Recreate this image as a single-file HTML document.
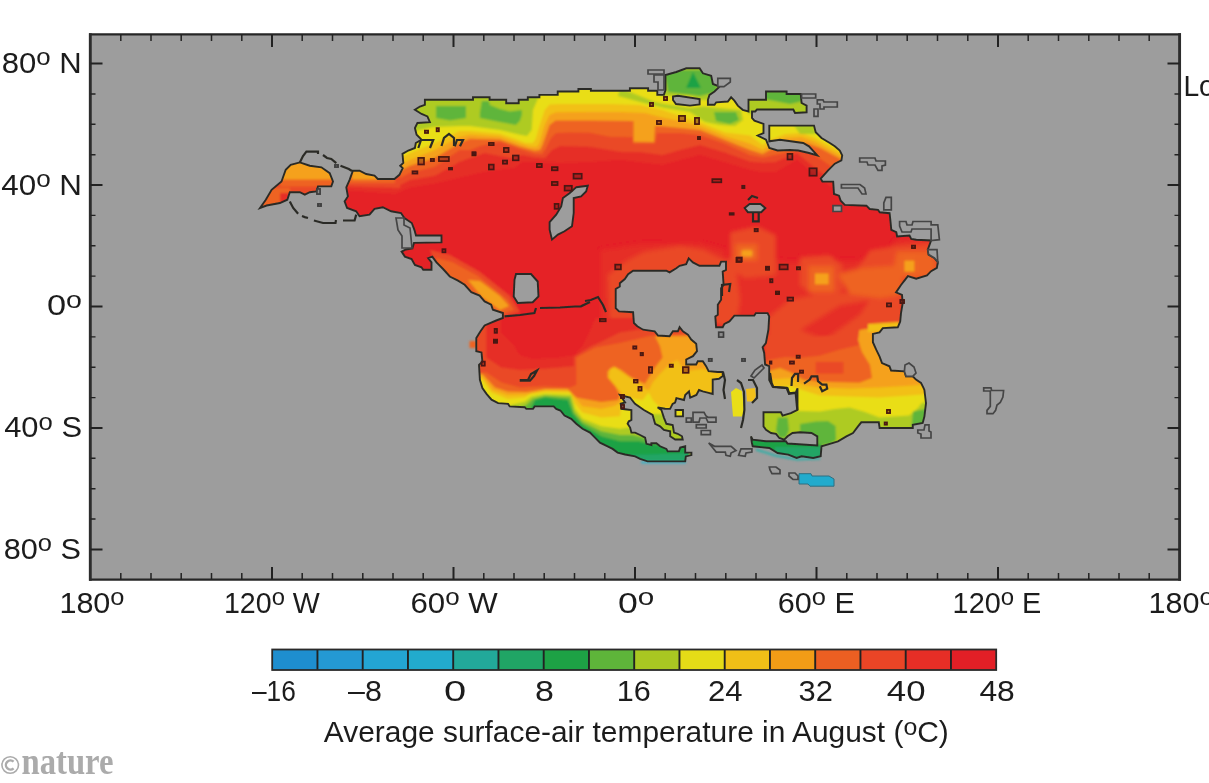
<!DOCTYPE html>
<html><head><meta charset="utf-8"><title>Average surface-air temperature in August</title>
<style>
html,body{margin:0;padding:0;background:#fff;}
body{width:1209px;height:783px;position:relative;overflow:hidden;font-family:"Liberation Sans",sans-serif;}
.t{position:absolute;font-size:29px;line-height:33px;color:#1a1a1a;white-space:nowrap;letter-spacing:-0.3px;}
.t.c{text-align:center;}
.d{font-size:19px;position:relative;top:-8px;letter-spacing:0;}
.nat{position:absolute;left:1px;top:744px;font-family:"Liberation Serif",serif;font-weight:bold;font-size:37px;line-height:37px;color:#a9a9a9;transform-origin:0 0;transform:scaleX(0.8);white-space:nowrap;letter-spacing:-1.5px;}
.nat .c{font-size:27px;font-weight:normal;position:relative;top:-1px;margin-right:1px;font-family:"Liberation Sans",sans-serif;}
</style></head><body>
<svg width="1209" height="783" viewBox="0 0 1209 783" style="position:absolute;left:0;top:0;filter:blur(0.4px)"><defs><clipPath id="land"><path clip-rule="evenodd" d="M424.9,99.8 L473.0,99.8 L473.0,97.3 L489.6,97.3 L489.6,99.8 L506.2,99.8 L506.2,103.2 L518.7,103.2 L518.7,99.8 L527.8,99.8 L527.8,97.3 L539.4,97.3 L539.4,94.9 L557.7,94.9 L557.7,91.5 L578.4,91.5 L578.4,89.0 L590.9,89.0 L590.9,90.7 L629.9,90.7 L629.9,88.2 L648.1,88.2 L648.1,90.7 L657.3,90.7 L657.3,94.9 L663.9,94.9 L665.5,90.0 L665.5,75.0 L676.3,72.0 L686.3,68.3 L699.6,68.3 L702.9,73.3 L711.2,75.8 L712.9,84.0 L719.5,86.6 L714.5,91.5 L709.5,94.9 L707.9,99.8 L707.9,104.8 L714.5,104.8 L716.2,102.3 L727.8,101.5 L731.1,97.3 L734.4,100.7 L737.8,105.6 L742.7,109.8 L748.5,111.5 L748.5,99.8 L766.0,99.8 L766.0,91.5 L786.6,91.5 L786.6,94.0 L800.7,94.0 L801.6,103.0 L806.6,105.6 L806.6,112.3 L795.0,113.0 L793.3,109.5 L757.0,109.5 L755.2,111.5 L752.0,111.5 L752.0,118.0 L754.4,120.6 L763.5,123.9 L763.5,133.0 L757.7,135.5 L766.0,139.7 L769.3,148.0 L777.6,150.5 L790.0,150.0 L798.3,150.5 L809.0,153.0 L817.3,155.4 L809.0,146.3 L803.2,143.0 L780.0,139.7 L769.3,141.3 L769.3,125.6 L814.0,125.6 L815.7,132.2 L821.5,138.0 L829.8,143.0 L834.8,146.3 L839.8,150.5 L842.2,155.4 L841.4,160.4 L834.8,163.7 L828.1,170.4 L820.7,178.7 L822.4,181.6 L833.2,181.6 L834.0,194.0 L839.0,195.7 L840.7,200.7 L844.8,204.9 L866.4,205.7 L869.7,209.0 L878.0,209.8 L879.7,212.3 L889.6,213.2 L890.5,221.5 L891.3,229.8 L896.3,232.2 L897.1,236.4 L909.5,235.6 L911.2,238.9 L916.2,239.7 L931.1,240.5 L927.8,249.7 L928.6,254.6 L934.4,258.0 L937.8,262.1 L936.9,267.9 L931.1,271.2 L927.0,275.4 L916.2,278.7 L907.9,276.2 L904.6,280.4 L901.0,285.0 L896.0,292.4 L902.0,295.0 L902.7,303.2 L901.0,313.2 L900.2,321.5 L897.8,327.3 L882.8,328.1 L879.5,332.3 L872.9,333.9 L872.9,342.2 L876.2,349.7 L879.5,356.3 L882.0,363.0 L889.5,366.3 L891.1,370.5 L904.4,371.3 L906.0,376.3 L912.7,376.3 L916.0,379.6 L921.0,382.9 L923.5,387.9 L924.4,390.0 L926.0,403.2 L924.4,416.5 L922.7,423.0 L912.8,424.8 L912.8,428.0 L879.6,428.0 L878.8,422.3 L861.3,422.3 L858.0,426.4 L853.0,433.0 L846.4,436.4 L838.0,441.4 L829.8,443.9 L821.5,446.3 L820.7,456.3 L813.2,458.0 L801.6,456.3 L796.6,458.0 L788.3,454.6 L777.6,453.0 L769.3,448.0 L752.7,446.3 L751.9,443.0 L751.0,436.3 L752.7,439.7 L766.0,441.3 L785.9,441.3 L787.6,443.5 L817.3,445.5 L817.3,436.4 L811.5,433.0 L800.0,432.2 L792.5,433.0 L787.6,436.3 L784.2,439.7 L779.3,438.0 L776.0,433.9 L771.0,433.0 L766.0,429.7 L763.5,426.4 L763.5,412.3 L780.9,412.3 L782.6,415.6 L790.9,413.1 L797.5,409.8 L797.5,388.3 L795.9,392.4 L789.2,393.2 L787.6,388.2 L772.6,386.6 L769.2,380.0 L769.2,366.2 L765.1,364.5 L764.2,352.9 L762.6,347.1 L765.9,343.0 L768.4,329.7 L769.2,316.4 L767.6,313.1 L755.9,313.1 L754.3,315.6 L734.4,315.6 L729.4,321.4 L724.4,323.9 L722.7,327.2 L716.1,327.2 L715.3,316.4 L717.8,314.7 L717.8,304.8 L721.1,299.8 L721.1,288.2 L723.6,284.9 L722.7,271.6 L726.0,269.9 L726.0,261.6 L721.1,261.6 L719.4,265.8 L699.5,265.8 L692.9,262.4 L688.7,258.3 L686.2,264.1 L679.6,265.8 L676.3,268.3 L669.6,272.4 L666.3,270.7 L633.1,270.7 L628.1,274.1 L624.8,279.0 L619.8,283.2 L619.8,286.5 L615.7,289.0 L615.7,308.1 L619.0,311.4 L633.1,312.2 L633.9,323.0 L637.3,326.3 L643.1,329.7 L654.7,331.3 L658.0,335.5 L669.6,336.3 L672.9,331.3 L677.9,331.3 L679.6,327.2 L682.9,331.3 L687.9,334.6 L691.2,339.6 L696.2,343.8 L697.0,351.2 L692.9,356.2 L686.2,359.5 L686.2,364.5 L696.2,364.5 L697.8,361.2 L702.8,361.2 L706.1,366.2 L708.6,371.2 L717.8,372.0 L722.7,372.0 L722.7,376.0 L719.0,378.8 L712.7,379.5 L712.7,394.0 L707.7,392.6 L702.7,391.3 L699.0,390.0 L696.4,395.0 L690.2,397.6 L689.0,391.3 L685.2,395.0 L684.0,400.0 L676.4,398.2 L675.1,402.6 L672.6,403.9 L670.1,408.9 L665.1,408.8 L657.6,407.5 L661.4,410.0 L663.9,417.6 L666.4,423.8 L672.7,425.0 L674.0,432.6 L677.7,433.8 L682.0,436.3 L682.7,439.5 L675.2,439.5 L670.2,436.3 L670.2,431.3 L663.9,430.0 L660.1,426.3 L655.1,423.8 L652.6,415.0 L643.9,410.0 L635.0,403.8 L630.0,397.5 L620.0,395.0 L625.1,402.5 L620.7,403.8 L621.3,408.8 L631.4,410.0 L631.4,420.0 L628.8,421.3 L627.6,423.8 L630.1,427.6 L631.4,432.6 L635.1,432.6 L640.1,435.0 L645.1,437.6 L646.4,443.8 L651.4,445.0 L651.4,443.2 L656.4,443.2 L660.1,446.3 L666.4,448.9 L667.7,451.4 L678.9,451.4 L680.2,447.6 L685.2,446.3 L685.2,452.6 L691.4,452.6 L691.4,455.1 L685.8,456.4 L685.2,461.4 L647.6,461.4 L640.1,458.9 L635.1,456.4 L625.1,454.5 L617.6,452.6 L612.6,448.9 L607.6,446.3 L600.0,442.6 L595.0,437.6 L590.0,432.6 L582.5,428.8 L576.3,423.8 L571.2,418.8 L564.5,415.5 L560.4,410.5 L556.2,408.9 L553.7,406.4 L534.6,406.4 L533.0,408.9 L526.3,408.9 L524.7,407.2 L509.7,406.4 L508.1,403.9 L498.1,403.1 L491.5,399.7 L486.5,393.9 L482.4,388.1 L479.9,379.8 L479.0,364.9 L482.4,361.6 L481.5,352.4 L476.3,351.2 L476.3,337.9 L480.5,331.2 L484.6,325.4 L496.2,320.5 L502.9,318.0 L502.9,313.0 L492.9,309.7 L491.2,304.7 L484.6,301.4 L479.6,295.6 L471.3,292.2 L464.7,284.8 L458.0,280.6 L449.8,276.5 L443.1,269.0 L436.5,262.4 L432.3,256.6 L428.2,258.2 L431.5,262.4 L431.5,269.8 L423.2,269.8 L421.5,267.3 L414.9,264.9 L411.6,259.0 L404.9,256.6 L401.6,251.6 L406.0,249.5 L412.4,248.3 L414.0,242.9 L441.5,242.4 L441.5,235.5 L416.0,235.5 L414.3,229.6 L411.8,223.0 L404.4,218.0 L401.0,213.0 L391.1,211.3 L382.8,207.2 L374.5,208.8 L369.5,214.6 L359.5,216.3 L356.2,211.3 L347.1,208.0 L344.6,201.4 L347.9,196.4 L346.3,187.3 L349.6,179.8 L352.9,170.7 L359.5,170.7 L366.2,174.0 L374.5,175.6 L377.8,179.0 L394.4,179.0 L399.4,174.8 L402.7,168.2 L400.2,165.7 L403.3,162.9 L402.5,153.8 L408.3,150.5 L414.9,148.0 L415.8,143.0 L421.6,139.7 L416.6,134.7 L414.9,128.0 L417.4,123.0 L429.9,122.2 L427.4,116.4 L421.6,114.0 L414.9,109.8 L419.9,106.5 L424.9,104.8ZM576.1,187.3 L587.8,185.7 L586.1,191.5 L581.1,196.5 L573.7,198.1 L573.7,213.0 L572.0,226.3 L564.5,231.3 L557.9,234.6 L552.0,239.6 L549.6,229.7 L549.6,222.2 L556.2,214.7 L561.2,206.4 L562.9,198.1 L569.5,193.2ZM516.0,274.0 L531.0,274.0 L537.7,281.5 L538.5,296.4 L532.7,302.2 L517.8,303.0 L513.7,296.4 L514.5,279.8ZM744.6,208.0 L749.6,204.0 L760.4,204.0 L765.4,208.0 L761.2,212.2 L747.9,212.2ZM673.0,96.5 L678.0,95.7 L699.6,99.0 L699.6,104.5 L690.0,105.6 L676.0,104.0 L673.0,100.0ZM675.5,410.0 L683.0,410.0 L683.0,416.4 L675.5,416.4Z"/></clipPath><clipPath id="wisl"><path d="M260.0,208.0 L265.8,199.7 L271.6,189.8 L281.5,181.5 L285.7,169.8 L290.7,164.9 L299.8,162.4 L309.8,165.7 L321.4,167.3 L329.7,173.2 L333.0,181.5 L331.3,186.4 L318.0,186.4 L316.4,191.4 L309.8,192.2 L304.8,194.7 L299.8,192.2 L289.8,192.2 L287.3,199.7 L279.9,203.0 L266.6,205.5Z"/></clipPath><filter id="b1" x="-5%" y="-5%" width="110%" height="110%"><feGaussianBlur stdDeviation="0.9"/></filter><filter id="b2" x="-5%" y="-5%" width="110%" height="110%"><feGaussianBlur stdDeviation="0.6"/></filter><filter id="b3" x="-10%" y="-10%" width="120%" height="120%"><feGaussianBlur stdDeviation="2.2"/></filter></defs><rect x="90.5" y="34.5" width="1089" height="545" fill="#9d9d9d"/><g clip-path="url(#land)"><g filter="url(#b1)"><rect x="330" y="50" width="640" height="440" fill="#e52027"/><g filter="url(#b3)"><path d="M725.0,262.0 L745.0,240.0 L760.0,258.0 L790.0,262.0 L885.0,260.0 L895.0,240.0 L945.0,235.0 L945.0,300.0 L910.0,330.0 L760.0,340.0 L725.0,330.0Z" fill="#e62e27"/><path d="M600.0,250.0 L640.0,244.0 L700.0,243.0 L725.0,250.0 L725.0,350.0 L600.0,350.0Z" fill="#e62e27"/><path d="M608.0,275.0 L625.0,262.0 L644.0,252.0 L680.0,246.0 L704.0,250.0 L720.0,258.0 L735.0,262.0 L740.0,300.0 L735.0,330.0 L720.0,345.0 L640.0,345.0 L610.0,325.0Z" fill="#ea4a25"/><path d="M730.0,232.0 L757.0,226.0 L776.0,235.0 L776.0,275.0 L745.0,278.0 L730.0,268.0Z" fill="#ea4a25"/><path d="M735.5,244.0 L757.4,244.0 L757.4,260.6 L735.5,260.6Z" fill="#ee6420"/><path d="M742.0,250.6 L752.0,250.6 L752.0,256.0 L742.0,256.0Z" fill="#f5a11a"/><path d="M800.0,257.0 L830.0,255.0 L842.0,265.0 L843.0,290.0 L830.0,300.0 L806.0,300.0 L800.0,290.0Z" fill="#ea4a25"/><path d="M808.5,266.0 L834.0,266.0 L834.0,291.7 L808.5,291.7Z" fill="#ee6420"/><path d="M815.0,273.4 L828.6,273.4 L828.6,284.4 L815.0,284.4Z" fill="#f5a11a"/><path d="M858.0,268.0 L870.0,250.0 L895.0,246.0 L940.0,243.0 L940.0,280.0 L900.0,284.0 L870.0,282.0Z" fill="#ea4a25"/><path d="M862.0,268.0 L894.0,266.0 L897.0,251.5 L930.8,251.5 L936.0,265.0 L930.8,277.0 L894.3,277.0 L862.0,277.0Z" fill="#ee6420"/><path d="M904.4,260.6 L914.4,260.6 L914.4,271.6 L904.4,271.6Z" fill="#f5a11a"/><path d="M765.0,285.0 L800.0,285.0 L820.0,300.0 L905.0,290.0 L905.0,340.0 L765.0,345.0Z" fill="#e62e27"/><path d="M768.0,318.0 L790.0,300.0 L815.0,295.0 L860.0,292.0 L900.0,290.0 L905.0,335.0 L890.0,350.0 L768.0,350.0Z" fill="#ea4a25"/><path d="M800.0,330.0 L840.0,305.0 L870.0,300.0 L860.0,315.0 L825.0,340.0Z" fill="#e62e27"/><path d="M838.0,274.0 L862.0,268.0 L900.0,268.0 L905.0,294.0 L880.0,298.0 L850.0,294.0Z" fill="#ee6420"/></g><path d="M340.0,40.0 L340.0,190.0 L395.0,194.0 L400.0,192.0 L410.0,187.7 L434.8,183.7 L459.7,177.8 L484.6,172.0 L515.0,168.0 L522.5,162.0 L535.0,162.6 L560.0,163.0 L585.0,162.6 L620.0,160.0 L662.5,165.0 L700.0,155.0 L725.0,162.6 L750.0,170.0 L762.7,172.6 L775.2,172.6 L797.0,160.0 L815.0,175.0 L835.0,190.0 L850.0,197.0 L850.0,40.0Z" fill="#e62e27"/><path d="M340.0,40.0 L340.0,184.0 L395.0,187.0 L400.0,185.0 L410.0,180.0 L434.8,175.8 L459.7,161.8 L484.6,153.0 L510.0,158.0 L522.5,155.0 L535.0,157.6 L545.0,158.0 L552.0,150.0 L560.0,146.0 L590.0,146.8 L620.0,151.8 L640.0,152.0 L662.5,155.0 L680.0,150.0 L700.0,145.0 L725.0,152.6 L750.0,161.4 L762.7,162.6 L775.2,162.0 L797.0,153.0 L815.0,168.0 L835.0,183.0 L850.0,190.0 L850.0,40.0Z" fill="#ea4a25"/><path d="M340.0,40.0 L340.0,178.0 L395.0,180.0 L400.0,178.0 L410.0,172.8 L434.8,166.8 L459.7,150.0 L470.0,150.0 L480.0,146.0 L500.0,141.8 L520.0,149.3 L534.7,153.8 L542.0,154.0 L545.7,148.8 L551.0,138.0 L556.0,133.0 L570.0,132.6 L590.0,132.8 L610.0,136.8 L633.0,137.0 L633.0,143.5 L655.0,143.5 L657.0,133.0 L680.0,133.0 L700.0,135.0 L725.0,143.8 L750.0,155.0 L762.7,157.6 L775.0,155.0 L800.0,150.0 L807.0,150.0 L836.0,169.5 L850.0,178.0 L850.0,40.0Z" fill="#ee6420"/><path d="M340.0,40.0 L340.0,172.0 L395.0,173.0 L400.0,171.0 L410.0,165.8 L434.8,158.0 L459.7,143.0 L470.0,138.8 L500.0,139.8 L520.0,146.8 L534.7,150.8 L540.0,150.0 L542.7,144.8 L549.6,124.9 L555.6,120.4 L590.0,120.4 L633.6,121.0 L633.6,141.8 L654.0,142.0 L655.0,126.0 L662.5,126.3 L680.0,128.0 L700.0,130.0 L725.0,140.0 L750.0,150.0 L762.7,154.0 L770.0,150.0 L785.0,143.0 L806.0,143.0 L820.0,148.0 L841.4,159.6 L850.0,165.0 L850.0,40.0Z" fill="#f5a11a"/><path d="M395.0,40.0 L395.0,167.0 L400.0,165.0 L410.0,160.0 L434.8,150.0 L459.7,137.0 L470.0,134.8 L500.0,136.8 L520.0,143.8 L530.0,146.8 L537.0,147.0 L539.7,142.8 L544.7,124.9 L549.6,114.9 L556.0,112.3 L590.0,112.0 L620.0,112.0 L645.0,113.0 L662.5,117.5 L680.0,121.0 L700.0,126.3 L725.0,136.3 L750.0,143.8 L762.7,150.0 L770.0,145.0 L785.0,138.0 L801.6,137.0 L815.0,142.0 L843.0,157.0 L843.0,40.0Z" fill="#f2c019"/><path d="M395.0,40.0 L395.0,160.0 L400.0,158.0 L410.0,153.0 L434.8,143.0 L459.7,131.0 L470.0,130.9 L500.0,133.8 L515.0,138.8 L525.0,142.8 L533.0,143.0 L535.7,138.8 L539.7,124.9 L544.7,109.9 L549.6,104.5 L560.0,104.0 L610.0,104.0 L640.0,105.0 L662.5,110.0 L680.0,116.0 L700.0,122.6 L725.0,132.6 L750.0,135.5 L762.7,145.0 L770.0,140.0 L785.0,134.0 L801.6,133.0 L815.0,138.0 L843.0,153.0 L843.0,40.0Z" fill="#e9de18"/><path d="M410.0,95.0 L410.0,132.0 L433.0,127.0 L459.7,126.0 L470.0,125.9 L500.0,129.9 L520.0,134.8 L527.0,136.0 L531.7,130.0 L533.0,110.0 L540.0,94.0 L536.0,88.0Z" fill="#aecb23"/><path d="M436.0,106.0 L466.0,106.0 L466.0,118.0 L450.0,120.6 L436.0,118.0Z" fill="#5eb53a"/><path d="M481.9,101.0 L488.9,101.0 L489.9,105.0 L499.8,108.9 L509.8,111.4 L521.8,109.9 L521.8,114.9 L519.8,120.9 L515.8,124.9 L499.8,121.9 L479.9,117.9 L479.9,112.9Z" fill="#5eb53a"/><path d="M620.0,88.0 L640.0,96.0 L655.0,102.0 L662.5,103.8 L690.0,108.0 L703.0,106.5 L741.0,110.0 L743.0,120.0 L735.0,126.0 L720.0,125.0 L705.0,122.0 L690.0,112.0 L665.0,108.0 L640.0,102.0 L618.0,96.0Z" fill="#aecb23"/><path d="M714.0,112.0 L736.0,112.0 L739.0,120.0 L730.0,124.0 L716.0,121.0Z" fill="#5eb53a"/><path d="M660.0,66.0 L725.0,66.0 L725.0,100.0 L700.0,100.0 L690.0,96.0 L660.0,96.0Z" fill="#aecb23"/><path d="M664.0,70.0 L720.0,70.0 L716.0,92.0 L700.0,96.0 L668.0,92.0Z" fill="#5eb53a"/><path d="M693.0,72.0 L686.0,88.0 L701.0,88.0Z" fill="#1da245"/><path d="M748.0,90.0 L810.0,90.0 L810.0,114.0 L748.0,114.0Z" fill="#aecb23"/><path d="M764.0,91.0 L808.0,91.0 L808.0,100.0 L790.0,104.0 L764.0,99.0Z" fill="#5eb53a"/><path d="M793.0,124.0 L814.0,124.0 L816.0,134.0 L800.0,134.0Z" fill="#aecb23"/><path d="M340.0,165.0 L400.0,165.0 L400.0,188.0 L340.0,186.0Z" fill="#ea4a25"/><path d="M345.0,165.0 L395.0,165.0 L395.0,183.0 L345.0,183.0Z" fill="#ee6420"/><path d="M352.0,168.0 L378.0,171.0 L378.0,179.5 L352.0,179.5Z" fill="#f5a11a"/><path d="M430.0,250.0 L450.0,255.0 L480.0,272.0 L510.0,296.0 L520.0,312.0 L500.0,318.0 L470.0,300.0 L440.0,275.0Z" fill="#ea4a25"/><path d="M436.0,258.0 L452.0,262.0 L478.0,276.0 L508.0,300.0 L514.0,310.0 L500.0,314.0 L472.0,296.0 L442.0,272.0Z" fill="#ee6420"/><path d="M468.0,280.0 L480.0,281.0 L500.0,296.0 L509.0,306.0 L500.0,310.0 L482.0,297.0Z" fill="#f5a11a"/><path d="M470.0,318.0 L700.0,318.0 L740.0,330.0 L740.0,520.0 L470.0,520.0Z" fill="#e62e27"/><path d="M501.3,318.0 L501.3,332.5 L513.8,345.0 L520.0,355.0 L532.6,358.8 L557.6,357.6 L574.0,355.0 L582.7,345.0 L589.0,332.5 L595.2,318.0Z" fill="#e52027"/><path d="M470.0,318.0 L486.3,318.0 L486.3,357.6 L501.3,367.6 L520.0,370.0 L545.0,368.8 L574.0,366.3 L574.0,357.0 L589.0,347.5 L607.7,338.8 L620.0,332.5 L650.0,328.0 L740.0,328.0 L740.0,520.0 L470.0,520.0Z" fill="#ea4a25"/><path d="M470.0,372.6 L486.3,372.6 L501.3,382.6 L520.0,387.6 L545.0,386.3 L570.0,387.6 L576.4,385.0 L576.4,357.6 L595.2,347.5 L620.0,343.0 L650.0,336.0 L700.0,333.0 L740.0,333.0 L740.0,520.0 L470.0,520.0Z" fill="#ee6420"/><path d="M470.0,374.0 L482.5,374.0 L495.0,387.6 L507.6,391.4 L526.3,392.0 L545.0,388.9 L567.7,388.9 L576.4,397.6 L582.5,398.8 L601.3,401.9 L618.0,400.0 L620.0,395.0 L615.0,386.3 L607.5,377.6 L607.5,371.3 L613.8,366.3 L621.3,370.0 L631.3,377.6 L645.0,383.8 L648.8,377.6 L655.0,367.6 L662.6,357.5 L660.0,346.3 L655.0,336.3 L700.0,336.0 L740.0,336.0 L740.0,520.0 L470.0,520.0Z" fill="#f5a11a"/><path d="M470.0,376.3 L482.5,376.3 L492.5,390.0 L507.6,395.0 L526.3,394.5 L545.0,390.0 L569.0,390.7 L575.0,397.5 L582.5,406.3 L601.3,408.8 L614.0,406.0 L621.0,402.0 L621.3,392.6 L615.0,385.0 L608.8,377.6 L610.0,368.8 L615.0,367.5 L627.6,376.3 L640.0,383.8 L645.0,388.8 L648.8,390.0 L652.6,382.6 L660.0,373.8 L670.0,363.8 L677.6,360.0 L685.0,371.3 L702.7,368.8 L715.0,372.6 L740.0,372.0 L740.0,520.0 L470.0,520.0Z" fill="#f2c019"/><path d="M470.0,380.0 L482.5,380.0 L491.3,392.6 L507.6,398.9 L525.0,397.6 L530.0,393.9 L545.0,392.0 L570.0,392.6 L575.0,403.8 L582.5,412.5 L601.3,417.6 L620.0,416.3 L622.0,398.0 L631.3,398.2 L642.6,400.0 L648.8,392.6 L652.6,400.0 L660.0,407.6 L700.0,410.0 L740.0,410.0 L740.0,520.0 L470.0,520.0Z" fill="#e9de18"/><path d="M500.0,410.0 L511.3,405.0 L525.0,401.4 L531.3,396.4 L545.0,393.9 L571.4,395.0 L575.0,408.8 L582.5,418.8 L601.3,426.3 L620.0,428.8 L628.8,427.6 L640.0,430.0 L690.0,440.0 L690.0,520.0 L500.0,520.0Z" fill="#aecb23"/><path d="M515.0,410.0 L526.3,405.0 L532.6,398.9 L545.0,395.7 L570.0,397.6 L574.0,412.0 L582.5,422.0 L601.3,431.3 L620.0,435.0 L632.6,435.0 L645.0,438.0 L690.0,444.0 L690.0,520.0 L515.0,520.0Z" fill="#5eb53a"/><path d="M530.0,410.0 L535.0,400.0 L545.0,397.6 L567.7,400.0 L573.0,414.0 L582.5,425.0 L601.3,436.3 L620.0,441.3 L638.9,441.3 L650.0,444.0 L690.0,447.0 L690.0,520.0 L530.0,520.0Z" fill="#1da245"/><path d="M630.0,455.0 L690.0,453.0 L690.0,470.0 L630.0,470.0Z" fill="#20a565"/><path d="M652.0,414.0 L664.0,414.0 L676.0,430.0 L684.0,436.0 L684.0,442.0 L670.0,442.0 L654.0,426.0Z" fill="#aecb23"/><path d="M812.0,270.5 L831.5,270.5 L831.5,287.5 L812.0,287.5Z" fill="#ee6420"/><path d="M901.5,258.0 L917.5,258.0 L917.5,274.5 L901.5,274.5Z" fill="#ee6420"/><path d="M742.0,250.6 L752.0,250.6 L752.0,256.0 L742.0,256.0Z" fill="#f5a11a"/><path d="M815.0,273.4 L828.6,273.4 L828.6,284.4 L815.0,284.4Z" fill="#f5a11a"/><path d="M904.4,260.6 L914.4,260.6 L914.4,271.6 L904.4,271.6Z" fill="#f5a11a"/><path d="M765.0,335.0 L800.0,338.0 L840.0,335.0 L860.0,325.0 L900.0,320.0 L905.0,300.0 L960.0,300.0 L960.0,470.0 L765.0,470.0Z" fill="#ea4a25"/><path d="M765.0,362.0 L769.8,359.8 L785.7,357.0 L799.7,357.8 L819.6,355.8 L839.5,349.8 L859.4,345.0 L866.0,340.0 L880.0,335.0 L900.0,330.0 L960.0,330.0 L960.0,470.0 L765.0,470.0Z" fill="#ee6420"/><path d="M815.6,361.8 L843.5,361.8 L843.5,373.7 L815.6,373.7Z" fill="#ea4a25"/><path d="M765.0,372.0 L780.0,368.0 L790.0,372.0 L803.7,379.7 L819.6,381.7 L859.4,382.7 L872.0,378.0 L870.0,365.0 L862.0,352.0 L858.0,340.0 L859.4,329.9 L871.4,327.9 L899.3,325.9 L960.0,325.0 L960.0,470.0 L765.0,470.0Z" fill="#f5a11a"/><path d="M765.0,380.0 L790.0,378.0 L803.7,385.0 L819.6,387.6 L849.5,388.6 L879.4,387.6 L909.2,385.7 L930.0,384.0 L930.0,470.0 L765.0,470.0Z" fill="#f2c019"/><path d="M868.0,324.0 L899.0,322.0 L899.0,330.0 L868.0,332.0Z" fill="#f2c019"/><path d="M765.0,388.0 L790.0,386.0 L819.6,395.6 L849.5,396.6 L879.4,397.6 L909.2,395.6 L930.0,394.0 L930.0,470.0 L765.0,470.0Z" fill="#e9de18"/><path d="M760.0,412.0 L780.0,410.0 L800.0,411.0 L819.6,411.6 L835.0,409.0 L849.5,407.6 L865.0,412.0 L879.4,417.5 L909.2,415.5 L918.0,408.0 L921.2,403.6 L930.0,400.0 L930.0,470.0 L760.0,470.0Z" fill="#aecb23"/><path d="M777.8,417.5 L787.7,417.5 L789.0,430.0 L786.0,437.5 L779.0,437.5 L776.0,430.0Z" fill="#5eb53a"/><path d="M800.0,424.0 L815.6,421.5 L828.0,421.0 L835.5,426.0 L836.0,440.0 L830.0,444.0 L815.0,446.0 L800.0,440.0Z" fill="#5eb53a"/><path d="M913.0,411.6 L930.0,408.0 L930.0,430.0 L911.2,430.0Z" fill="#5eb53a"/><path d="M745.0,434.0 L790.0,440.0 L822.0,445.0 L822.0,470.0 L745.0,470.0Z" fill="#1da245"/><path d="M775.0,447.0 L822.0,447.0 L822.0,470.0 L775.0,470.0Z" fill="#20a565"/></g></g><g clip-path="url(#wisl)"><g filter="url(#b1)"><rect x="250" y="150" width="100" height="70" fill="#e62e27"/><path d="M255.0,185.0 L340.0,185.0 L340.0,215.0 L255.0,215.0Z" fill="#ea4a25"/><path d="M262.0,188.0 L290.0,188.0 L290.0,205.0 L262.0,210.0Z" fill="#ee6420"/><path d="M280.0,193.0 L292.0,193.0 L292.0,205.0 L280.0,205.0Z" fill="#e62e27"/><path d="M280.0,179.0 L336.0,179.0 L336.0,186.5 L280.0,186.5Z" fill="#ee6420"/><path d="M280.0,160.0 L336.0,160.0 L336.0,179.5 L280.0,179.5Z" fill="#f5a11a"/></g></g><g filter="url(#b1)"><path d="M641,462.3H686" stroke="#39b4c8" stroke-width="2.2" fill="none"/><path d="M756,449.5L775,455.5L797,459.5L820,458.5" stroke="#2fb0a8" stroke-width="2" fill="none"/><rect x="469.5" y="341" width="7" height="7" fill="#ee6420"/></g><path d="M799.0,473.7 L811.0,473.7 L812.0,476.0 L829.0,476.0 L834.0,479.0 L834.0,486.2 L810.0,486.2 L808.0,484.0 L799.0,484.0Z" fill="#22abcd" stroke="#2f6f80" stroke-width="1"/><path d="M731.0,392.0 L736.0,388.0 L742.0,391.0 L743.0,400.0 L744.4,410.0 L742.0,416.4 L733.0,416.4 L732.0,405.0Z" fill="#e9de18"/><path d="M746.0,389.0 L755.0,388.0 L756.0,396.0 L753.0,401.5 L747.0,401.5Z" fill="#f2c019"/><path d="M675.5,410.0 L683.0,410.0 L683.0,416.4 L675.5,416.4Z" fill="#e9de18" /><g fill="none" stroke="#2c2c26" stroke-width="1.9" stroke-linejoin="miter" filter="url(#b2)"><path d="M424.9,99.8 L473.0,99.8 L473.0,97.3 L489.6,97.3 L489.6,99.8 L506.2,99.8 L506.2,103.2 L518.7,103.2 L518.7,99.8 L527.8,99.8 L527.8,97.3 L539.4,97.3 L539.4,94.9 L557.7,94.9 L557.7,91.5 L578.4,91.5 L578.4,89.0 L590.9,89.0 L590.9,90.7 L629.9,90.7 L629.9,88.2 L648.1,88.2 L648.1,90.7 L657.3,90.7 L657.3,94.9 L663.9,94.9 L665.5,90.0 L665.5,75.0 L676.3,72.0 L686.3,68.3 L699.6,68.3 L702.9,73.3 L711.2,75.8 L712.9,84.0 L719.5,86.6 L714.5,91.5 L709.5,94.9 L707.9,99.8 L707.9,104.8 L714.5,104.8 L716.2,102.3 L727.8,101.5 L731.1,97.3 L734.4,100.7 L737.8,105.6 L742.7,109.8 L748.5,111.5 L748.5,99.8 L766.0,99.8 L766.0,91.5 L786.6,91.5 L786.6,94.0 L800.7,94.0 L801.6,103.0 L806.6,105.6 L806.6,112.3 L795.0,113.0 L793.3,109.5 L757.0,109.5 L755.2,111.5 L752.0,111.5 L752.0,118.0 L754.4,120.6 L763.5,123.9 L763.5,133.0 L757.7,135.5 L766.0,139.7 L769.3,148.0 L777.6,150.5 L790.0,150.0 L798.3,150.5 L809.0,153.0 L817.3,155.4 L809.0,146.3 L803.2,143.0 L780.0,139.7 L769.3,141.3 L769.3,125.6 L814.0,125.6 L815.7,132.2 L821.5,138.0 L829.8,143.0 L834.8,146.3 L839.8,150.5 L842.2,155.4 L841.4,160.4 L834.8,163.7 L828.1,170.4 L820.7,178.7 L822.4,181.6 L833.2,181.6 L834.0,194.0 L839.0,195.7 L840.7,200.7 L844.8,204.9 L866.4,205.7 L869.7,209.0 L878.0,209.8 L879.7,212.3 L889.6,213.2 L890.5,221.5 L891.3,229.8 L896.3,232.2 L897.1,236.4 L909.5,235.6 L911.2,238.9 L916.2,239.7 L931.1,240.5 L927.8,249.7 L928.6,254.6 L934.4,258.0 L937.8,262.1 L936.9,267.9 L931.1,271.2 L927.0,275.4 L916.2,278.7 L907.9,276.2 L904.6,280.4 L901.0,285.0 L896.0,292.4 L902.0,295.0 L902.7,303.2 L901.0,313.2 L900.2,321.5 L897.8,327.3 L882.8,328.1 L879.5,332.3 L872.9,333.9 L872.9,342.2 L876.2,349.7 L879.5,356.3 L882.0,363.0 L889.5,366.3 L891.1,370.5 L904.4,371.3 L906.0,376.3 L912.7,376.3 L916.0,379.6 L921.0,382.9 L923.5,387.9 L924.4,390.0 L926.0,403.2 L924.4,416.5 L922.7,423.0 L912.8,424.8 L912.8,428.0 L879.6,428.0 L878.8,422.3 L861.3,422.3 L858.0,426.4 L853.0,433.0 L846.4,436.4 L838.0,441.4 L829.8,443.9 L821.5,446.3 L820.7,456.3 L813.2,458.0 L801.6,456.3 L796.6,458.0 L788.3,454.6 L777.6,453.0 L769.3,448.0 L752.7,446.3 L751.9,443.0 L751.0,436.3 L752.7,439.7 L766.0,441.3 L785.9,441.3 L787.6,443.5 L817.3,445.5 L817.3,436.4 L811.5,433.0 L800.0,432.2 L792.5,433.0 L787.6,436.3 L784.2,439.7 L779.3,438.0 L776.0,433.9 L771.0,433.0 L766.0,429.7 L763.5,426.4 L763.5,412.3 L780.9,412.3 L782.6,415.6 L790.9,413.1 L797.5,409.8 L797.5,388.3 L795.9,392.4 L789.2,393.2 L787.6,388.2 L772.6,386.6 L769.2,380.0 L769.2,366.2 L765.1,364.5 L764.2,352.9 L762.6,347.1 L765.9,343.0 L768.4,329.7 L769.2,316.4 L767.6,313.1 L755.9,313.1 L754.3,315.6 L734.4,315.6 L729.4,321.4 L724.4,323.9 L722.7,327.2 L716.1,327.2 L715.3,316.4 L717.8,314.7 L717.8,304.8 L721.1,299.8 L721.1,288.2 L723.6,284.9 L722.7,271.6 L726.0,269.9 L726.0,261.6 L721.1,261.6 L719.4,265.8 L699.5,265.8 L692.9,262.4 L688.7,258.3 L686.2,264.1 L679.6,265.8 L676.3,268.3 L669.6,272.4 L666.3,270.7 L633.1,270.7 L628.1,274.1 L624.8,279.0 L619.8,283.2 L619.8,286.5 L615.7,289.0 L615.7,308.1 L619.0,311.4 L633.1,312.2 L633.9,323.0 L637.3,326.3 L643.1,329.7 L654.7,331.3 L658.0,335.5 L669.6,336.3 L672.9,331.3 L677.9,331.3 L679.6,327.2 L682.9,331.3 L687.9,334.6 L691.2,339.6 L696.2,343.8 L697.0,351.2 L692.9,356.2 L686.2,359.5 L686.2,364.5 L696.2,364.5 L697.8,361.2 L702.8,361.2 L706.1,366.2 L708.6,371.2 L717.8,372.0 L722.7,372.0 L722.7,376.0 L719.0,378.8 L712.7,379.5 L712.7,394.0 L707.7,392.6 L702.7,391.3 L699.0,390.0 L696.4,395.0 L690.2,397.6 L689.0,391.3 L685.2,395.0 L684.0,400.0 L676.4,398.2 L675.1,402.6 L672.6,403.9 L670.1,408.9 L665.1,408.8 L657.6,407.5 L661.4,410.0 L663.9,417.6 L666.4,423.8 L672.7,425.0 L674.0,432.6 L677.7,433.8 L682.0,436.3 L682.7,439.5 L675.2,439.5 L670.2,436.3 L670.2,431.3 L663.9,430.0 L660.1,426.3 L655.1,423.8 L652.6,415.0 L643.9,410.0 L635.0,403.8 L630.0,397.5 L620.0,395.0 L625.1,402.5 L620.7,403.8 L621.3,408.8 L631.4,410.0 L631.4,420.0 L628.8,421.3 L627.6,423.8 L630.1,427.6 L631.4,432.6 L635.1,432.6 L640.1,435.0 L645.1,437.6 L646.4,443.8 L651.4,445.0 L651.4,443.2 L656.4,443.2 L660.1,446.3 L666.4,448.9 L667.7,451.4 L678.9,451.4 L680.2,447.6 L685.2,446.3 L685.2,452.6 L691.4,452.6 L691.4,455.1 L685.8,456.4 L685.2,461.4 L647.6,461.4 L640.1,458.9 L635.1,456.4 L625.1,454.5 L617.6,452.6 L612.6,448.9 L607.6,446.3 L600.0,442.6 L595.0,437.6 L590.0,432.6 L582.5,428.8 L576.3,423.8 L571.2,418.8 L564.5,415.5 L560.4,410.5 L556.2,408.9 L553.7,406.4 L534.6,406.4 L533.0,408.9 L526.3,408.9 L524.7,407.2 L509.7,406.4 L508.1,403.9 L498.1,403.1 L491.5,399.7 L486.5,393.9 L482.4,388.1 L479.9,379.8 L479.0,364.9 L482.4,361.6 L481.5,352.4 L476.3,351.2 L476.3,337.9 L480.5,331.2 L484.6,325.4 L496.2,320.5 L502.9,318.0 L502.9,313.0 L492.9,309.7 L491.2,304.7 L484.6,301.4 L479.6,295.6 L471.3,292.2 L464.7,284.8 L458.0,280.6 L449.8,276.5 L443.1,269.0 L436.5,262.4 L432.3,256.6 L428.2,258.2 L431.5,262.4 L431.5,269.8 L423.2,269.8 L421.5,267.3 L414.9,264.9 L411.6,259.0 L404.9,256.6 L401.6,251.6 L406.0,249.5 L412.4,248.3 L414.0,242.9 L441.5,242.4 L441.5,235.5 L416.0,235.5 L414.3,229.6 L411.8,223.0 L404.4,218.0 L401.0,213.0 L391.1,211.3 L382.8,207.2 L374.5,208.8 L369.5,214.6 L359.5,216.3 L356.2,211.3 L347.1,208.0 L344.6,201.4 L347.9,196.4 L346.3,187.3 L349.6,179.8 L352.9,170.7 L359.5,170.7 L366.2,174.0 L374.5,175.6 L377.8,179.0 L394.4,179.0 L399.4,174.8 L402.7,168.2 L400.2,165.7 L403.3,162.9 L402.5,153.8 L408.3,150.5 L414.9,148.0 L415.8,143.0 L421.6,139.7 L416.6,134.7 L414.9,128.0 L417.4,123.0 L429.9,122.2 L427.4,116.4 L421.6,114.0 L414.9,109.8 L419.9,106.5 L424.9,104.8ZM576.1,187.3 L587.8,185.7 L586.1,191.5 L581.1,196.5 L573.7,198.1 L573.7,213.0 L572.0,226.3 L564.5,231.3 L557.9,234.6 L552.0,239.6 L549.6,229.7 L549.6,222.2 L556.2,214.7 L561.2,206.4 L562.9,198.1 L569.5,193.2ZM516.0,274.0 L531.0,274.0 L537.7,281.5 L538.5,296.4 L532.7,302.2 L517.8,303.0 L513.7,296.4 L514.5,279.8ZM744.6,208.0 L749.6,204.0 L760.4,204.0 L765.4,208.0 L761.2,212.2 L747.9,212.2ZM673.0,96.5 L678.0,95.7 L699.6,99.0 L699.6,104.5 L690.0,105.6 L676.0,104.0 L673.0,100.0ZM675.5,410.0 L683.0,410.0 L683.0,416.4 L675.5,416.4Z"/><path d="M260.0,208.0 L265.8,199.7 L271.6,189.8 L281.5,181.5 L285.7,169.8 L290.7,164.9 L299.8,162.4 L309.8,165.7 L321.4,167.3 L329.7,173.2 L333.0,181.5 L331.3,186.4 L318.0,186.4 L316.4,191.4 L309.8,192.2 L304.8,194.7 L299.8,192.2 L289.8,192.2 L287.3,199.7 L279.9,203.0 L266.6,205.5Z"/><path d="M648.0,70.0 L664.0,70.0 L664.0,74.0 L648.0,74.0Z" fill="#9d9d9d" stroke="#454545" stroke-width="1.7"/><path d="M654.0,75.0 L664.0,75.0 L664.0,90.0 L658.0,90.0 L658.0,82.0 L654.0,82.0Z" fill="#9d9d9d" stroke="#454545" stroke-width="1.7"/><path d="M717.8,78.3 L730.3,78.3 L730.3,82.0 L724.0,86.6 L717.8,86.6Z" fill="#9d9d9d" stroke="#454545" stroke-width="1.7"/><path d="M801.6,94.0 L815.7,94.0 L815.7,98.0 L801.6,98.0Z" fill="#9d9d9d" stroke="#454545" stroke-width="1.7"/><path d="M817.3,99.8 L823.0,99.8 L824.0,102.0 L837.3,102.0 L837.3,107.0 L824.0,107.0 L824.0,109.0 L820.0,109.0 L820.0,104.0 L817.3,104.0Z" fill="#9d9d9d" stroke="#454545" stroke-width="1.7"/><path d="M814.0,109.0 L818.0,109.0 L818.0,116.4 L814.0,116.4Z" fill="#9d9d9d" stroke="#454545" stroke-width="1.7"/><path d="M859.7,158.0 L875.0,158.0 L876.0,161.0 L885.4,161.0 L885.4,165.0 L882.0,166.0 L882.0,170.4 L878.0,170.4 L875.0,165.0 L868.0,165.0 L867.0,162.0 L859.7,162.0Z" fill="#9d9d9d" stroke="#454545" stroke-width="1.7"/><path d="M841.4,184.5 L860.0,184.5 L864.6,188.0 L866.0,194.0 L862.0,194.0 L858.0,188.0 L841.4,188.0Z" fill="#9d9d9d" stroke="#454545" stroke-width="1.7"/><path d="M883.8,209.8 L883.8,203.0 L886.0,197.4 L891.3,197.4 L891.3,209.8Z" fill="#9d9d9d" stroke="#454545" stroke-width="1.7"/><path d="M833.0,205.7 L841.5,205.7 L841.5,211.5 L833.0,211.5Z" fill="#9d9d9d" stroke="#454545" stroke-width="1.7"/><path d="M899.6,221.5 L906.0,221.5 L907.0,225.0 L912.0,225.0 L913.0,221.5 L931.1,221.5 L931.1,224.8 L937.8,224.8 L939.4,239.7 L931.1,240.5 L931.1,229.0 L912.0,229.0 L911.0,232.0 L902.0,232.0 L899.6,226.0Z" fill="#9d9d9d" stroke="#454545" stroke-width="1.7"/><path d="M927.8,249.7 L937.0,249.7 L937.8,262.1 L934.4,258.0 L928.6,254.6Z" fill="#9d9d9d" stroke="#454545" stroke-width="1.7"/><path d="M917.8,430.0 L924.0,430.0 L925.0,424.8 L929.0,424.8 L929.0,431.0 L931.0,432.0 L931.0,438.0 L921.0,438.0 L921.0,434.0 L917.8,433.0Z" fill="#9d9d9d" stroke="#454545" stroke-width="1.7"/><path d="M983.7,387.8 L991.0,387.8 L991.6,390.5 L1003.6,390.5 L1002.9,397.1 L1000.3,402.4 L997.0,405.0 L995.6,410.4 L993.0,413.7 L987.0,413.7 L987.0,410.4 L990.3,406.4 L990.3,391.0 L983.7,391.0Z" fill="#9d9d9d" stroke="#454545" stroke-width="1.7"/><path d="M708.7,443.0 L714.5,446.3 L731.1,446.3 L736.0,450.5 L731.0,453.0 L730.3,456.3 L726.0,455.4 L725.3,452.1 L716.2,452.1 L712.9,448.0Z" fill="#9d9d9d" stroke="#454545" stroke-width="1.7"/><path d="M741.0,448.8 L751.9,448.8 L751.9,452.1 L746.0,453.0 L745.2,456.3 L738.6,455.4Z" fill="#9d9d9d" stroke="#454545" stroke-width="1.7"/><path d="M769.3,467.0 L776.0,467.0 L780.0,470.0 L780.0,473.7 L772.0,473.7 L770.0,470.0Z" fill="#9d9d9d" stroke="#454545" stroke-width="1.7"/><path d="M693.0,412.3 L704.0,412.3 L706.0,416.0 L708.0,417.3 L716.0,417.3 L716.0,422.2 L708.0,422.2 L706.0,418.0 L700.0,418.0 L699.0,422.2 L693.0,422.2Z" fill="#9d9d9d" stroke="#454545" stroke-width="1.7"/><path d="M686.3,418.0 L691.3,418.0 L691.3,422.2 L686.3,422.2Z" fill="#9d9d9d" stroke="#454545" stroke-width="1.7"/><path d="M696.3,424.7 L706.2,424.7 L706.2,428.0 L696.3,428.0Z" fill="#9d9d9d" stroke="#454545" stroke-width="1.7"/><path d="M701.2,430.5 L710.4,430.5 L710.4,434.7 L701.2,434.7Z" fill="#9d9d9d" stroke="#454545" stroke-width="1.7"/><path d="M396.0,218.0 L404.0,218.0 L404.0,225.0 L410.0,228.0 L412.0,248.0 L402.0,248.0 L402.0,236.0 L398.0,230.0Z" fill="#9d9d9d" stroke="#454545" stroke-width="1.7"/><path d="M789.0,473.0 L795.0,473.0 L798.0,476.0 L798.0,479.5 L793.0,479.5 L789.0,476.0Z" fill="#9d9d9d" stroke="#454545" stroke-width="1.7"/><path d="M751.0,376.0 L755.0,370.0 L762.0,365.0 L764.0,368.0 L758.0,374.0 L754.0,378.0Z" fill="#9d9d9d" stroke="#454545" stroke-width="1.7"/><path d="M904.4,371.3 L905.0,365.0 L909.0,363.0 L914.0,367.0 L916.0,373.0 L912.7,376.3 L906.0,376.3Z" fill="#9d9d9d" stroke="#454545" stroke-width="1.7"/><path d="M299.8,162.4 L303.0,156.0 L306.4,151.6 L318.0,151.6 L318.0,154.0" stroke-width="2.2"/><path d="M323.0,155.0 L327.0,158.0 L331.3,159.0 L336.3,163.2" stroke-width="2.2"/><path d="M340.5,165.7 L348.8,169.0 L352.0,171.0" stroke-width="2.2"/><path d="M289.8,201.4 L293.2,208.0 L298.1,213.8" stroke-width="2.2"/><path d="M302.0,216.0 L304.8,217.1 L308.0,218.0" stroke-width="2.2"/><path d="M313.9,220.5 L323.0,223.0 L335.5,223.0 L336.0,220.0" stroke-width="2.2"/><path d="M343.0,220.5 L354.6,220.5 L356.2,214.6" stroke-width="2.2"/><path d="M504.5,316.3 L520.0,315.0 L534.4,313.0 L536.0,308.0" stroke-width="2.2"/><path d="M540.0,308.0 L560.0,307.5 L575.0,306.5 L580.9,306.3 L590.0,302.0" stroke-width="2.2"/><path d="M585.0,301.0 L590.8,300.0 L598.0,297.0 L603.0,305.0 L606.0,312.0" stroke-width="2.2"/><path d="M804.0,383.7 L809.8,379.6 L811.5,376.3 L817.3,376.3 L818.0,381.2 L822.2,384.6 L826.4,384.6 L827.2,388.7 L822.2,391.2 L819.8,386.2" stroke-width="2.2"/><path d="M791.5,386.0 L792.0,378.0 L795.0,373.8 L798.2,373.8 L798.0,382.0" stroke-width="2.2"/><path d="M723.0,372.0 L725.0,380.0 L723.5,390.0 L725.0,399.0" stroke-width="2.2"/><path d="M753.0,213.0 L753.0,221.4 L758.7,221.4 L758.7,213.0" stroke-width="2.2"/><path d="M748.0,200.0 L752.0,196.0 L758.0,198.0" stroke-width="2.2"/><path d="M519.7,380.0 L528.0,380.0 L531.0,374.0 L537.0,370.5 L534.0,376.0 L530.0,380.7 L519.7,380.7" stroke-width="2.2"/><path d="M441.5,146.0 L444.0,138.0 L449.0,134.0 L454.0,138.0 L454.0,146.0" stroke-width="2.2"/><path d="M418.3,148.0 L421.0,140.0 L433.2,140.0 L430.0,148.0" stroke-width="2.2"/><path d="M454.8,146.3 L457.0,140.0 L463.0,140.0 L460.0,146.3" stroke-width="2.2"/><path d="M722.0,296.0 L722.0,285.0 L730.2,284.0 L729.0,292.0" stroke-width="2.2"/><path d="M737.0,380.0 L741.0,383.0 L744.0,392.0 L744.4,410.0 L743.0,420.0 L741.0,428.0" stroke-width="2.2"/><path d="M748.0,380.0 L753.0,380.0 L757.0,388.0 L757.0,398.0 L752.0,403.0" stroke-width="2.2"/><path d="M770.0,373.0 L771.6,383.0 L773.3,387.0 L786.6,387.9 L789.0,393.7 L795.7,392.9 L797.3,410.0" stroke-width="2.2"/><rect x="718.7" y="332.2" width="4.8" height="4.9" stroke="#3e3e3e" stroke-width="1.7" fill="#777" fill-opacity="0.5"/><rect x="708.7" y="358.8" width="3.2" height="2.3" stroke="#3e3e3e" stroke-width="1.7" fill="#777" fill-opacity="0.5"/><rect x="741.9" y="358.8" width="3.2" height="2.3" stroke="#3e3e3e" stroke-width="1.7" fill="#777" fill-opacity="0.5"/><rect x="316.9" y="188.9" width="3.2" height="5.2" stroke="#3e3e3e" stroke-width="1.7" fill="#777" fill-opacity="0.5"/><rect x="317.9" y="203.9" width="3.2" height="2.2" stroke="#3e3e3e" stroke-width="1.7" fill="#777" fill-opacity="0.5"/><rect x="334.9" y="164.9" width="3.2" height="2.2" stroke="#3e3e3e" stroke-width="1.7" fill="#777" fill-opacity="0.5"/><rect x="488.9" y="142.9" width="4.8" height="2.2" stroke="#4a1812" stroke-width="1.7" fill="#6a1510" fill-opacity="0.45"/><rect x="503.9" y="147.9" width="4.7" height="4.2" stroke="#4a1812" stroke-width="1.7" fill="#6a1510" fill-opacity="0.45"/><rect x="472.3" y="152.2" width="3.1" height="3.2" stroke="#4a1812" stroke-width="1.7" fill="#6a1510" fill-opacity="0.45"/><rect x="512.9" y="155.5" width="5.7" height="4.8" stroke="#4a1812" stroke-width="1.7" fill="#6a1510" fill-opacity="0.45"/><rect x="502.9" y="160.5" width="4.2" height="3.2" stroke="#4a1812" stroke-width="1.7" fill="#6a1510" fill-opacity="0.45"/><rect x="488.9" y="164.6" width="4.8" height="4.9" stroke="#4a1812" stroke-width="1.7" fill="#6a1510" fill-opacity="0.45"/><rect x="536.9" y="163.9" width="4.9" height="3.2" stroke="#4a1812" stroke-width="1.7" fill="#6a1510" fill-opacity="0.45"/><rect x="551.9" y="167.1" width="5.7" height="3.2" stroke="#4a1812" stroke-width="1.7" fill="#6a1510" fill-opacity="0.45"/><rect x="573.5" y="173.8" width="8.2" height="4.8" stroke="#4a1812" stroke-width="1.7" fill="#6a1510" fill-opacity="0.45"/><rect x="551.9" y="181.9" width="5.7" height="3.2" stroke="#4a1812" stroke-width="1.7" fill="#6a1510" fill-opacity="0.45"/><rect x="448.9" y="167.9" width="3.2" height="1.6" stroke="#4a1812" stroke-width="1.7" fill="#6a1510" fill-opacity="0.45"/><rect x="418.3" y="157.9" width="5.7" height="6.6" stroke="#4a1812" stroke-width="1.7" fill="#6a1510" fill-opacity="0.45"/><rect x="430.8" y="158.9" width="3.2" height="2.2" stroke="#4a1812" stroke-width="1.7" fill="#6a1510" fill-opacity="0.45"/><rect x="438.9" y="156.9" width="10.0" height="4.2" stroke="#4a1812" stroke-width="1.7" fill="#6a1510" fill-opacity="0.45"/><rect x="412.5" y="171.3" width="4.9" height="2.3" stroke="#4a1812" stroke-width="1.7" fill="#6a1510" fill-opacity="0.45"/><rect x="424.9" y="130.6" width="3.2" height="2.4" stroke="#4a1812" stroke-width="1.7" fill="#6a1510" fill-opacity="0.45"/><rect x="436.6" y="128.1" width="2.3" height="3.2" stroke="#4a1812" stroke-width="1.7" fill="#6a1510" fill-opacity="0.45"/><rect x="473.3" y="152.6" width="2.3" height="2.3" stroke="#4a1812" stroke-width="1.7" fill="#6a1510" fill-opacity="0.45"/><rect x="564.6" y="185.8" width="7.3" height="4.8" stroke="#4a1812" stroke-width="1.7" fill="#6a1510" fill-opacity="0.45"/><rect x="554.6" y="203.9" width="4.0" height="4.9" stroke="#4a1812" stroke-width="1.7" fill="#6a1510" fill-opacity="0.45"/><rect x="615.2" y="264.6" width="5.7" height="4.8" stroke="#4a1812" stroke-width="1.7" fill="#6a1510" fill-opacity="0.45"/><rect x="712.3" y="179.1" width="9.0" height="3.2" stroke="#4a1812" stroke-width="1.7" fill="#6a1510" fill-opacity="0.45"/><rect x="742.2" y="185.8" width="2.3" height="2.3" stroke="#4a1812" stroke-width="1.7" fill="#6a1510" fill-opacity="0.45"/><rect x="729.7" y="213.1" width="4.0" height="1.6" stroke="#4a1812" stroke-width="1.7" fill="#6a1510" fill-opacity="0.45"/><rect x="754.6" y="228.9" width="3.2" height="2.4" stroke="#4a1812" stroke-width="1.7" fill="#6a1510" fill-opacity="0.45"/><rect x="736.4" y="257.9" width="4.8" height="4.1" stroke="#4a1812" stroke-width="1.7" fill="#6a1510" fill-opacity="0.45"/><rect x="766.3" y="267.1" width="2.3" height="2.3" stroke="#4a1812" stroke-width="1.7" fill="#6a1510" fill-opacity="0.45"/><rect x="779.5" y="264.6" width="8.2" height="4.8" stroke="#4a1812" stroke-width="1.7" fill="#6a1510" fill-opacity="0.45"/><rect x="796.9" y="267.1" width="3.2" height="2.3" stroke="#4a1812" stroke-width="1.7" fill="#6a1510" fill-opacity="0.45"/><rect x="442.4" y="249.2" width="3.1" height="3.1" stroke="#4a1812" stroke-width="1.7" fill="#6a1510" fill-opacity="0.45"/><rect x="494.6" y="328.9" width="2.4" height="3.9" stroke="#4a1812" stroke-width="1.7" fill="#6a1510" fill-opacity="0.45"/><rect x="493.9" y="339.6" width="3.2" height="3.2" stroke="#4a1812" stroke-width="1.7" fill="#6a1510" fill-opacity="0.45"/><rect x="736.9" y="257.5" width="4.9" height="4.0" stroke="#4a1812" stroke-width="1.7" fill="#6a1510" fill-opacity="0.45"/><rect x="765.9" y="266.7" width="3.2" height="3.1" stroke="#4a1812" stroke-width="1.7" fill="#6a1510" fill-opacity="0.45"/><rect x="770.1" y="279.1" width="2.4" height="3.2" stroke="#4a1812" stroke-width="1.7" fill="#6a1510" fill-opacity="0.45"/><rect x="775.9" y="291.6" width="3.2" height="2.3" stroke="#4a1812" stroke-width="1.7" fill="#6a1510" fill-opacity="0.45"/><rect x="599.9" y="318.9" width="5.8" height="2.4" stroke="#4a1812" stroke-width="1.7" fill="#6a1510" fill-opacity="0.45"/><rect x="633.2" y="346.3" width="3.2" height="2.4" stroke="#4a1812" stroke-width="1.7" fill="#6a1510" fill-opacity="0.45"/><rect x="640.6" y="352.9" width="2.4" height="2.4" stroke="#4a1812" stroke-width="1.7" fill="#6a1510" fill-opacity="0.45"/><rect x="648.9" y="367.1" width="3.2" height="5.7" stroke="#4a1812" stroke-width="1.7" fill="#6a1510" fill-opacity="0.45"/><rect x="669.7" y="364.6" width="3.2" height="2.3" stroke="#4a1812" stroke-width="1.7" fill="#6a1510" fill-opacity="0.45"/><rect x="682.9" y="367.1" width="5.7" height="5.7" stroke="#4a1812" stroke-width="1.7" fill="#6a1510" fill-opacity="0.45"/><rect x="775.9" y="291.7" width="3.2" height="2.4" stroke="#4a1812" stroke-width="1.7" fill="#6a1510" fill-opacity="0.45"/><rect x="787.5" y="297.5" width="5.6" height="3.2" stroke="#4a1812" stroke-width="1.7" fill="#6a1510" fill-opacity="0.45"/><rect x="796.6" y="355.6" width="3.2" height="2.3" stroke="#4a1812" stroke-width="1.7" fill="#6a1510" fill-opacity="0.45"/><rect x="789.9" y="361.4" width="4.1" height="2.3" stroke="#4a1812" stroke-width="1.7" fill="#6a1510" fill-opacity="0.45"/><rect x="769.9" y="361.4" width="1.6" height="2.3" stroke="#4a1812" stroke-width="1.7" fill="#6a1510" fill-opacity="0.45"/><rect x="799.9" y="370.5" width="3.2" height="2.4" stroke="#4a1812" stroke-width="1.7" fill="#6a1510" fill-opacity="0.45"/><rect x="886.9" y="303.3" width="4.2" height="3.2" stroke="#4a1812" stroke-width="1.7" fill="#6a1510" fill-opacity="0.45"/><rect x="633.9" y="379.9" width="3.7" height="2.7" stroke="#4a1812" stroke-width="1.7" fill="#6a1510" fill-opacity="0.45"/><rect x="638.4" y="386.9" width="3.2" height="3.7" stroke="#4a1812" stroke-width="1.7" fill="#6a1510" fill-opacity="0.45"/><rect x="620.9" y="394.9" width="3.2" height="3.2" stroke="#4a1812" stroke-width="1.7" fill="#6a1510" fill-opacity="0.45"/><rect x="621.4" y="404.9" width="2.7" height="3.2" stroke="#4a1812" stroke-width="1.7" fill="#6a1510" fill-opacity="0.45"/><rect x="493.9" y="340.9" width="2.5" height="1.5" stroke="#4a1812" stroke-width="1.7" fill="#6a1510" fill-opacity="0.45"/><rect x="481.6" y="361.6" width="3.2" height="4.1" stroke="#4a1812" stroke-width="1.7" fill="#6a1510" fill-opacity="0.45"/><rect x="886.9" y="409.9" width="3.2" height="3.2" stroke="#4a1812" stroke-width="1.7" fill="#6a1510" fill-opacity="0.45"/><rect x="884.6" y="422.4" width="2.4" height="2.3" stroke="#4a1812" stroke-width="1.7" fill="#6a1510" fill-opacity="0.45"/><rect x="787.5" y="153.9" width="4.9" height="5.6" stroke="#4a1812" stroke-width="1.7" fill="#6a1510" fill-opacity="0.45"/><rect x="809.4" y="168.3" width="7.3" height="7.4" stroke="#4a1812" stroke-width="1.7" fill="#6a1510" fill-opacity="0.45"/><rect x="911.9" y="245.6" width="3.2" height="2.5" stroke="#4a1812" stroke-width="1.7" fill="#6a1510" fill-opacity="0.45"/><rect x="656.9" y="120.9" width="4.2" height="3.2" stroke="#4a1812" stroke-width="1.7" fill="#6a1510" fill-opacity="0.45"/><rect x="678.9" y="115.9" width="6.2" height="5.2" stroke="#4a1812" stroke-width="1.7" fill="#6a1510" fill-opacity="0.45"/><rect x="694.9" y="117.9" width="4.2" height="6.2" stroke="#4a1812" stroke-width="1.7" fill="#6a1510" fill-opacity="0.45"/><rect x="697.9" y="136.9" width="2.2" height="2.2" stroke="#4a1812" stroke-width="1.7" fill="#6a1510" fill-opacity="0.45"/><rect x="649.9" y="102.9" width="3.2" height="3.2" stroke="#4a1812" stroke-width="1.7" fill="#6a1510" fill-opacity="0.45"/><rect x="663.9" y="96.9" width="3.2" height="3.2" stroke="#4a1812" stroke-width="1.7" fill="#6a1510" fill-opacity="0.45"/><rect x="900.3" y="299.9" width="3.8" height="3.2" stroke="#4a1812" stroke-width="1.7" fill="#6a1510" fill-opacity="0.45"/></g><path d="M89,34.4H1181M89,579.6H1181" fill="none" stroke="#262626" stroke-width="2.3"/><path d="M90.3,33.3V580.7M1179.6,33.3V580.7" fill="none" stroke="#2c2c2c" stroke-width="2.9"/><g stroke="#222" fill="none"><path d="M120.8,34.5v6.5M120.8,579.5v-6.5" stroke-width="1.5"/><path d="M151.0,34.5v6.5M151.0,579.5v-6.5" stroke-width="1.5"/><path d="M181.2,34.5v6.5M181.2,579.5v-6.5" stroke-width="1.5"/><path d="M211.5,34.5v6.5M211.5,579.5v-6.5" stroke-width="1.5"/><path d="M241.8,34.5v6.5M241.8,579.5v-6.5" stroke-width="1.5"/><path d="M272.0,34.5v12.5M272.0,579.5v-12.5" stroke-width="2"/><path d="M302.2,34.5v6.5M302.2,579.5v-6.5" stroke-width="1.5"/><path d="M332.5,34.5v6.5M332.5,579.5v-6.5" stroke-width="1.5"/><path d="M362.8,34.5v6.5M362.8,579.5v-6.5" stroke-width="1.5"/><path d="M393.0,34.5v6.5M393.0,579.5v-6.5" stroke-width="1.5"/><path d="M423.2,34.5v6.5M423.2,579.5v-6.5" stroke-width="1.5"/><path d="M453.5,34.5v12.5M453.5,579.5v-12.5" stroke-width="2"/><path d="M483.8,34.5v6.5M483.8,579.5v-6.5" stroke-width="1.5"/><path d="M514.0,34.5v6.5M514.0,579.5v-6.5" stroke-width="1.5"/><path d="M544.2,34.5v6.5M544.2,579.5v-6.5" stroke-width="1.5"/><path d="M574.5,34.5v6.5M574.5,579.5v-6.5" stroke-width="1.5"/><path d="M604.8,34.5v6.5M604.8,579.5v-6.5" stroke-width="1.5"/><path d="M635.0,34.5v12.5M635.0,579.5v-12.5" stroke-width="2"/><path d="M665.2,34.5v6.5M665.2,579.5v-6.5" stroke-width="1.5"/><path d="M695.5,34.5v6.5M695.5,579.5v-6.5" stroke-width="1.5"/><path d="M725.8,34.5v6.5M725.8,579.5v-6.5" stroke-width="1.5"/><path d="M756.0,34.5v6.5M756.0,579.5v-6.5" stroke-width="1.5"/><path d="M786.2,34.5v6.5M786.2,579.5v-6.5" stroke-width="1.5"/><path d="M816.5,34.5v12.5M816.5,579.5v-12.5" stroke-width="2"/><path d="M846.8,34.5v6.5M846.8,579.5v-6.5" stroke-width="1.5"/><path d="M877.0,34.5v6.5M877.0,579.5v-6.5" stroke-width="1.5"/><path d="M907.2,34.5v6.5M907.2,579.5v-6.5" stroke-width="1.5"/><path d="M937.5,34.5v6.5M937.5,579.5v-6.5" stroke-width="1.5"/><path d="M967.8,34.5v6.5M967.8,579.5v-6.5" stroke-width="1.5"/><path d="M998.0,34.5v12.5M998.0,579.5v-12.5" stroke-width="2"/><path d="M1028.2,34.5v6.5M1028.2,579.5v-6.5" stroke-width="1.5"/><path d="M1058.5,34.5v6.5M1058.5,579.5v-6.5" stroke-width="1.5"/><path d="M1088.8,34.5v6.5M1088.8,579.5v-6.5" stroke-width="1.5"/><path d="M1119.0,34.5v6.5M1119.0,579.5v-6.5" stroke-width="1.5"/><path d="M1149.2,34.5v6.5M1149.2,579.5v-6.5" stroke-width="1.5"/><path d="M90.5,549.4h12M1179.5,549.4h-12" stroke-width="2"/><path d="M90.5,519.0h5M1179.5,519.0h-5" stroke-width="1.4"/><path d="M90.5,488.7h5M1179.5,488.7h-5" stroke-width="1.4"/><path d="M90.5,458.3h5M1179.5,458.3h-5" stroke-width="1.4"/><path d="M90.5,427.9h12M1179.5,427.9h-12" stroke-width="2"/><path d="M90.5,397.6h5M1179.5,397.6h-5" stroke-width="1.4"/><path d="M90.5,367.2h5M1179.5,367.2h-5" stroke-width="1.4"/><path d="M90.5,336.9h5M1179.5,336.9h-5" stroke-width="1.4"/><path d="M90.5,306.5h12M1179.5,306.5h-12" stroke-width="2"/><path d="M90.5,276.1h5M1179.5,276.1h-5" stroke-width="1.4"/><path d="M90.5,245.8h5M1179.5,245.8h-5" stroke-width="1.4"/><path d="M90.5,215.4h5M1179.5,215.4h-5" stroke-width="1.4"/><path d="M90.5,185.1h12M1179.5,185.1h-12" stroke-width="2"/><path d="M90.5,154.7h5M1179.5,154.7h-5" stroke-width="1.4"/><path d="M90.5,124.3h5M1179.5,124.3h-5" stroke-width="1.4"/><path d="M90.5,94.0h5M1179.5,94.0h-5" stroke-width="1.4"/><path d="M90.5,63.6h12M1179.5,63.6h-12" stroke-width="2"/></g><rect x="272.20" y="649.5" width="45.25" height="20.5" fill="#1e8ecf"/><rect x="317.45" y="649.5" width="45.25" height="20.5" fill="#2499d3"/><rect x="362.70" y="649.5" width="45.25" height="20.5" fill="#23a5d3"/><rect x="407.95" y="649.5" width="45.25" height="20.5" fill="#22abcd"/><rect x="453.20" y="649.5" width="45.25" height="20.5" fill="#22a99a"/><rect x="498.45" y="649.5" width="45.25" height="20.5" fill="#20a565"/><rect x="543.70" y="649.5" width="45.25" height="20.5" fill="#1da245"/><rect x="588.95" y="649.5" width="45.25" height="20.5" fill="#5eb53a"/><rect x="634.20" y="649.5" width="45.25" height="20.5" fill="#a9c722"/><rect x="679.45" y="649.5" width="45.25" height="20.5" fill="#e5dc17"/><rect x="724.70" y="649.5" width="45.25" height="20.5" fill="#f0bf17"/><rect x="769.95" y="649.5" width="45.25" height="20.5" fill="#f29c16"/><rect x="815.20" y="649.5" width="45.25" height="20.5" fill="#ec5f22"/><rect x="860.45" y="649.5" width="45.25" height="20.5" fill="#ea4526"/><rect x="905.70" y="649.5" width="45.25" height="20.5" fill="#e62e26"/><rect x="950.95" y="649.5" width="45.25" height="20.5" fill="#e21f26"/><path d="M317.45,649.5v20.5" stroke="#222" stroke-width="1.9"/><path d="M362.70,649.5v20.5" stroke="#222" stroke-width="1.9"/><path d="M407.95,649.5v20.5" stroke="#222" stroke-width="1.9"/><path d="M453.20,649.5v20.5" stroke="#222" stroke-width="1.9"/><path d="M498.45,649.5v20.5" stroke="#222" stroke-width="1.9"/><path d="M543.70,649.5v20.5" stroke="#222" stroke-width="1.9"/><path d="M588.95,649.5v20.5" stroke="#222" stroke-width="1.9"/><path d="M634.20,649.5v20.5" stroke="#222" stroke-width="1.9"/><path d="M679.45,649.5v20.5" stroke="#222" stroke-width="1.9"/><path d="M724.70,649.5v20.5" stroke="#222" stroke-width="1.9"/><path d="M769.95,649.5v20.5" stroke="#222" stroke-width="1.9"/><path d="M815.20,649.5v20.5" stroke="#222" stroke-width="1.9"/><path d="M860.45,649.5v20.5" stroke="#222" stroke-width="1.9"/><path d="M905.70,649.5v20.5" stroke="#222" stroke-width="1.9"/><path d="M950.95,649.5v20.5" stroke="#222" stroke-width="1.9"/><rect x="272.2" y="649.5" width="724.00" height="20.5" fill="none" stroke="#2a2a2a" stroke-width="1.8"/></svg>
<svg width="1209" height="783" viewBox="0 0 1209 783" style="position:absolute;left:0;top:0;filter:blur(0.3px);font-family:'Liberation Sans',sans-serif"><text x="1.8" y="72.8" font-size="29" textLength="80.0" lengthAdjust="spacingAndGlyphs" fill="#1c1c1c" >80<tspan font-size="24.1" dy="-7.4">o</tspan><tspan dy="7.4">&#8203;</tspan> N</text><text x="1.3" y="194.6" font-size="29" textLength="80.7" lengthAdjust="spacingAndGlyphs" fill="#1c1c1c" >40<tspan font-size="24.1" dy="-7.4">o</tspan><tspan dy="7.4">&#8203;</tspan> N</text><text x="47.0" y="315.4" font-size="29" textLength="35.0" lengthAdjust="spacingAndGlyphs" fill="#1c1c1c" >0<tspan font-size="24.1" dy="-7.4">o</tspan><tspan dy="7.4">&#8203;</tspan></text><text x="4.2" y="436.9" font-size="29" textLength="77.8" lengthAdjust="spacingAndGlyphs" fill="#1c1c1c" >40<tspan font-size="24.1" dy="-7.4">o</tspan><tspan dy="7.4">&#8203;</tspan> S</text><text x="3.8" y="558.6" font-size="29" textLength="77.2" lengthAdjust="spacingAndGlyphs" fill="#1c1c1c" >80<tspan font-size="24.1" dy="-7.4">o</tspan><tspan dy="7.4">&#8203;</tspan> S</text><text x="59.4" y="612.7" font-size="29" textLength="65.1" lengthAdjust="spacingAndGlyphs" fill="#1c1c1c" >180<tspan font-size="24.1" dy="-7.4">o</tspan><tspan dy="7.4">&#8203;</tspan></text><text x="223.9" y="612.7" font-size="29" textLength="95.9" lengthAdjust="spacingAndGlyphs" fill="#1c1c1c" >120<tspan font-size="24.1" dy="-7.4">o</tspan><tspan dy="7.4">&#8203;</tspan> W</text><text x="410.5" y="612.7" font-size="29" textLength="87.3" lengthAdjust="spacingAndGlyphs" fill="#1c1c1c" >60<tspan font-size="24.1" dy="-7.4">o</tspan><tspan dy="7.4">&#8203;</tspan> W</text><text x="618.0" y="612.7" font-size="29" textLength="36.3" lengthAdjust="spacingAndGlyphs" fill="#1c1c1c" >0<tspan font-size="24.1" dy="-7.4">o</tspan><tspan dy="7.4">&#8203;</tspan></text><text x="777.8" y="612.7" font-size="29" textLength="77.1" lengthAdjust="spacingAndGlyphs" fill="#1c1c1c" >60<tspan font-size="24.1" dy="-7.4">o</tspan><tspan dy="7.4">&#8203;</tspan> E</text><text x="952.6" y="612.7" font-size="29" textLength="88.7" lengthAdjust="spacingAndGlyphs" fill="#1c1c1c" >120<tspan font-size="24.1" dy="-7.4">o</tspan><tspan dy="7.4">&#8203;</tspan> E</text><text x="1148.5" y="612.7" font-size="29" textLength="65.1" lengthAdjust="spacingAndGlyphs" fill="#1c1c1c" >180<tspan font-size="24.1" dy="-7.4">o</tspan><tspan dy="7.4">&#8203;</tspan></text><text x="252.0" y="700.7" font-size="29" textLength="43.8" lengthAdjust="spacingAndGlyphs" fill="#1c1c1c" >–16</text><text x="348.0" y="700.7" font-size="29" textLength="33.8" lengthAdjust="spacingAndGlyphs" fill="#1c1c1c" >–8</text><text x="443.9" y="700.7" font-size="29" textLength="22.2" lengthAdjust="spacingAndGlyphs" fill="#1c1c1c" >0</text><text x="534.9" y="700.7" font-size="29" textLength="18.9" lengthAdjust="spacingAndGlyphs" fill="#1c1c1c" >8</text><text x="616.8" y="700.7" font-size="29" textLength="34.0" lengthAdjust="spacingAndGlyphs" fill="#1c1c1c" >16</text><text x="708.1" y="700.7" font-size="29" textLength="34.5" lengthAdjust="spacingAndGlyphs" fill="#1c1c1c" >24</text><text x="798.5" y="700.7" font-size="29" textLength="34.3" lengthAdjust="spacingAndGlyphs" fill="#1c1c1c" >32</text><text x="886.8" y="700.7" font-size="29" textLength="38.7" lengthAdjust="spacingAndGlyphs" fill="#1c1c1c" >40</text><text x="979.4" y="700.7" font-size="29" textLength="35.4" lengthAdjust="spacingAndGlyphs" fill="#1c1c1c" >48</text><text x="323.8" y="742.4" font-size="29" textLength="625.0" lengthAdjust="spacingAndGlyphs" fill="#1c1c1c" >Average surface-air temperature in August (<tspan font-size="24.1" dy="-7.4">o</tspan><tspan dy="7.4">&#8203;</tspan>C)</text><text x="1183.4" y="96.2" font-size="29" textLength="31.4" lengthAdjust="spacingAndGlyphs" fill="#1c1c1c" >Lo</text><text x="21.5" y="773.6" font-family="'Liberation Serif',serif" font-weight="bold" font-size="38" textLength="92" lengthAdjust="spacingAndGlyphs" fill="#ababab">nature</text><circle cx="10.2" cy="765" r="8.3" fill="none" stroke="#ababab" stroke-width="1.6"/><path d="M13.6,761.6a4.6,4.6 0 1 0 0,6.8" fill="none" stroke="#ababab" stroke-width="2.4"/></svg>
</body></html>
